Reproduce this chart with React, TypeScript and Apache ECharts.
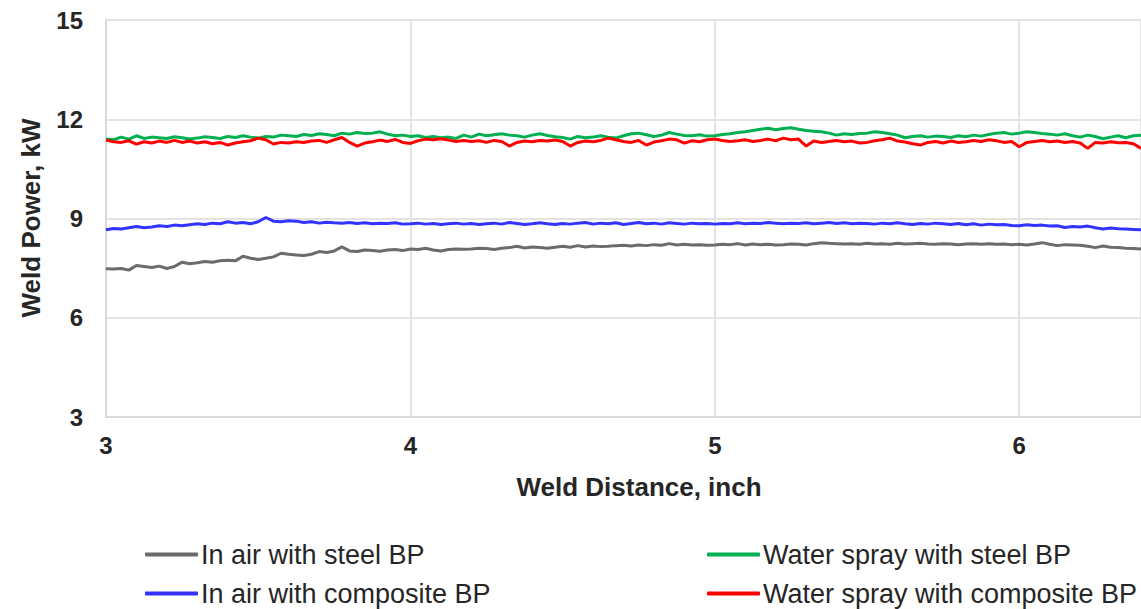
import React, { useEffect, useRef } from "react";
import * as echarts from "echarts";

// Sampling grid along the weld (inch)
const X_START = 3.0;
const X_STEP = 0.025;

const inAirSteel = [
  7.48, 7.47, 7.49, 7.44, 7.58, 7.55, 7.52, 7.56, 7.49, 7.55,
  7.68, 7.63, 7.66, 7.70, 7.68, 7.72, 7.74, 7.72, 7.86, 7.80,
  7.76, 7.80, 7.84, 7.95, 7.92, 7.90, 7.88, 7.92, 8.00, 7.97,
  8.02, 8.14, 8.02, 8.00, 8.05, 8.03, 8.01, 8.05, 8.06, 8.03,
  8.08, 8.06, 8.10, 8.05, 8.02, 8.06, 8.08, 8.07, 8.08, 8.10,
  8.09, 8.06, 8.10, 8.12, 8.16, 8.11, 8.14, 8.12, 8.10, 8.13,
  8.16, 8.13, 8.18, 8.14, 8.17, 8.15, 8.16, 8.18, 8.19, 8.17,
  8.20, 8.18, 8.21, 8.19, 8.24, 8.20, 8.22, 8.20, 8.21, 8.19,
  8.20, 8.22, 8.21, 8.24, 8.20, 8.23, 8.21, 8.22, 8.20, 8.21,
  8.23, 8.22, 8.20, 8.24, 8.27, 8.25, 8.24, 8.23, 8.24, 8.22,
  8.25, 8.23, 8.24, 8.22, 8.25, 8.23, 8.24, 8.25, 8.23, 8.22,
  8.24, 8.23, 8.21, 8.23, 8.24, 8.22, 8.24, 8.22, 8.23, 8.21,
  8.22, 8.20, 8.23, 8.27, 8.22, 8.18, 8.21, 8.20, 8.19, 8.16,
  8.12, 8.17, 8.13, 8.12, 8.10, 8.09, 8.08,
];

const waterSteel = [
  11.40, 11.38, 11.46, 11.40, 11.50, 11.42, 11.46, 11.44, 11.42, 11.47,
  11.44, 11.40, 11.43, 11.47, 11.45, 11.42, 11.48, 11.45, 11.50, 11.46,
  11.43, 11.48, 11.46, 11.52, 11.50, 11.48, 11.54, 11.51, 11.56, 11.54,
  11.50, 11.58, 11.55, 11.60, 11.57, 11.58, 11.62, 11.55, 11.50, 11.52,
  11.48, 11.50, 11.45, 11.48, 11.44, 11.46, 11.42, 11.52, 11.46, 11.55,
  11.50, 11.53, 11.56, 11.52, 11.50, 11.46, 11.52, 11.56, 11.51, 11.47,
  11.45, 11.40, 11.48, 11.44, 11.46, 11.50, 11.46, 11.43, 11.50, 11.56,
  11.58, 11.53, 11.48, 11.52, 11.60, 11.55, 11.51, 11.50, 11.53, 11.49,
  11.50, 11.54, 11.56, 11.60, 11.62, 11.66, 11.70, 11.73, 11.68, 11.72,
  11.74, 11.70, 11.66, 11.64, 11.62, 11.58, 11.52, 11.56, 11.54, 11.57,
  11.58, 11.62, 11.60, 11.56, 11.52, 11.44, 11.48, 11.50, 11.46, 11.49,
  11.48, 11.45, 11.50, 11.47, 11.52, 11.49, 11.54, 11.58, 11.60, 11.55,
  11.58, 11.62, 11.60, 11.57, 11.55, 11.52, 11.56, 11.50, 11.46, 11.52,
  11.48, 11.41, 11.46, 11.50, 11.44, 11.50, 11.52,
];

const inAirComposite = [
  8.66, 8.70, 8.68, 8.72, 8.76, 8.72, 8.74, 8.78, 8.76, 8.80,
  8.78, 8.81, 8.84, 8.82, 8.86, 8.84, 8.90, 8.86, 8.88, 8.84,
  8.90, 9.03, 8.92, 8.90, 8.93, 8.92, 8.88, 8.90, 8.86, 8.89,
  8.87, 8.86, 8.88, 8.85, 8.87, 8.84, 8.86, 8.85, 8.87, 8.83,
  8.84, 8.86, 8.83, 8.85, 8.82, 8.84, 8.86, 8.83, 8.85, 8.82,
  8.84, 8.86, 8.83, 8.88, 8.85, 8.82, 8.84, 8.87, 8.84, 8.82,
  8.85, 8.83, 8.86, 8.88, 8.83, 8.86, 8.84, 8.87, 8.82, 8.85,
  8.88, 8.84, 8.86, 8.83, 8.87, 8.85, 8.83, 8.86, 8.84, 8.85,
  8.83, 8.85, 8.84, 8.87, 8.84, 8.86, 8.85, 8.88, 8.86, 8.84,
  8.86, 8.85, 8.87, 8.84, 8.86, 8.88, 8.85, 8.87, 8.84, 8.86,
  8.85, 8.83, 8.86, 8.84, 8.87, 8.84, 8.82, 8.85, 8.83, 8.86,
  8.84, 8.82, 8.85, 8.81, 8.84, 8.80, 8.83, 8.81, 8.82, 8.79,
  8.78, 8.81, 8.79, 8.80, 8.77, 8.78, 8.73, 8.76, 8.74, 8.77,
  8.72, 8.68, 8.71, 8.69, 8.68, 8.67, 8.66,
];

const waterComposite = [
  11.37, 11.32, 11.30, 11.35, 11.25, 11.32, 11.28, 11.34, 11.30, 11.36,
  11.30, 11.34, 11.28, 11.32, 11.26, 11.30, 11.22, 11.28, 11.32, 11.35,
  11.43, 11.38, 11.25, 11.30, 11.28, 11.32, 11.30, 11.34, 11.36, 11.30,
  11.38, 11.45, 11.30, 11.19, 11.28, 11.32, 11.37, 11.33, 11.39, 11.30,
  11.27, 11.35, 11.40, 11.38, 11.41, 11.37, 11.33, 11.36, 11.33, 11.35,
  11.30, 11.36, 11.33, 11.19, 11.30, 11.34, 11.32, 11.36, 11.34, 11.37,
  11.33, 11.19, 11.30, 11.34, 11.32, 11.36, 11.43, 11.38, 11.33, 11.30,
  11.36, 11.22, 11.31, 11.35, 11.40, 11.38, 11.28, 11.35, 11.32, 11.38,
  11.40, 11.36, 11.33, 11.35, 11.38, 11.33, 11.36, 11.40, 11.35, 11.43,
  11.38, 11.40, 11.19, 11.34, 11.30, 11.33, 11.36, 11.32, 11.34, 11.28,
  11.30, 11.35, 11.38, 11.43, 11.34, 11.31, 11.26, 11.22, 11.30, 11.33,
  11.28, 11.34, 11.30, 11.32, 11.36, 11.33, 11.38, 11.35, 11.30, 11.33,
  11.17, 11.30, 11.33, 11.36, 11.32, 11.34, 11.30, 11.33, 11.28, 11.12,
  11.30, 11.28, 11.32, 11.29, 11.30, 11.26, 11.12,
];

const seriesNames = [
  "In air with steel BP",
  "Water spray with steel BP",
  "In air with composite BP",
  "Water spray with composite BP",
];
const seriesColors = ["#6b6b6b", "#00b050", "#3333ff", "#ff0000"];
const seriesValues = [inAirSteel, waterSteel, inAirComposite, waterComposite];

const xTitle = "Weld Distance, inch";
const yTitle = "Weld Power, kW";

const FONT = "'Liberation Sans', Arial, Helvetica, sans-serif";

function pairs(values: number[]) {
  return values.map((v, i) => [+(X_START + i * X_STEP).toFixed(3), v]);
}

export default function App() {
  const ref = useRef<HTMLDivElement>(null);

  useEffect(() => {
    document.body.style.margin = "0";
    const chart = echarts.init(ref.current!, null, { renderer: "svg" });

    const legendPos = [
      { left: 145, top: 541 },
      { left: 707, top: 541 },
      { left: 145, top: 580 },
      { left: 707, top: 580 },
    ];

    chart.setOption({
      animation: false,
      backgroundColor: "#ffffff",
      grid: { left: 106, right: 0, top: 20, bottom: 192, containLabel: false },
      xAxis: {
        type: "value",
        min: 3,
        max: 6.4,
        interval: 1,
        axisLine: { show: true, lineStyle: { color: "#d9d9d9", width: 2 } },
        axisTick: { show: false },
        splitLine: { show: true, lineStyle: { color: "#e3e3e3", width: 2 } },
        axisLabel: {
          showMaxLabel: false,
          margin: 16,
          color: "#262626",
          fontSize: 24,
          fontWeight: "bold",
          fontFamily: FONT,
        },
      },
      yAxis: {
        type: "value",
        min: 3,
        max: 15,
        interval: 3,
        axisLine: { show: true, lineStyle: { color: "#d9d9d9", width: 2 } },
        axisTick: { show: false },
        splitLine: { show: true, lineStyle: { color: "#e3e3e3", width: 2 } },
        axisLabel: {
          margin: 23,
          color: "#262626",
          fontSize: 24,
          fontWeight: "bold",
          fontFamily: FONT,
        },
      },
      legend: seriesNames.map((n, i) => ({
        data: [n],
        left: legendPos[i].left,
        top: legendPos[i].top,
        icon: "roundRect",
        itemWidth: 53,
        itemHeight: 4,
        itemGap: 0,
        padding: 0,
        selectedMode: false,
        textStyle: {
          color: "#262626",
          fontSize: 27,
          fontFamily: FONT,
          padding: [0, 0, 0, -2],
        },
      })),
      graphic: [
        {
          type: "text",
          x: 639,
          y: 487,
          style: {
            text: xTitle,
            fill: "#262626",
            font: `bold 26px ${FONT}`,
            textAlign: "center",
            textVerticalAlign: "middle",
          },
        },
        {
          type: "text",
          x: 31,
          y: 218,
          rotation: Math.PI / 2,
          style: {
            text: yTitle,
            fill: "#262626",
            font: `bold 26px ${FONT}`,
            textAlign: "center",
            textVerticalAlign: "middle",
          },
        },
      ],
      series: seriesNames.map((n, i) => ({
        name: n,
        type: "line",
        data: pairs(seriesValues[i]),
        showSymbol: false,
        symbol: "none",
        smooth: false,
        color: seriesColors[i],
        lineStyle: { color: seriesColors[i], width: 3 },
      })),
    });

    return () => chart.dispose();
  }, []);

  return <div ref={ref} style={{ width: 1141, height: 609 }} />;
}
